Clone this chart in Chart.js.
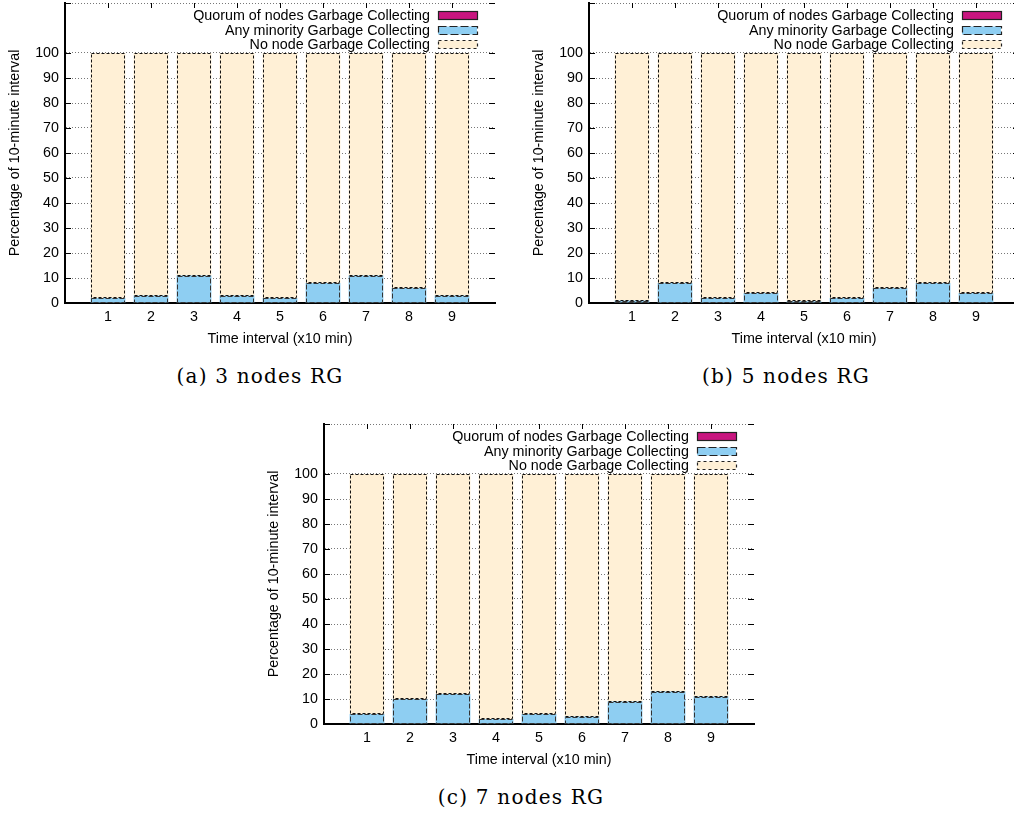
<!DOCTYPE html>
<html>
<head>
<meta charset="utf-8">
<script src="https://cdn.jsdelivr.net/npm/chart.js@4"></script>
<style>
  body { margin: 0; width: 1014px; height: 817px; overflow: hidden; background: #fff; position: relative; }
  canvas { position: absolute; }
  .cap { position: absolute; width: 400px; text-align: center; font-family: "DejaVu Serif", serif;
         font-size: 20px; letter-spacing: 1.2px; line-height: 24px; color: #000; }
</style>
</head>
<body>
<canvas id="chartA" width="500" height="350" style="left:0px;top:0px"></canvas>
<canvas id="chartB" width="500" height="350" style="left:524px;top:0px"></canvas>
<canvas id="chartC" width="500" height="350" style="left:259px;top:421px"></canvas>
<div class="cap" style="left:60px;top:364px">(a) 3 nodes RG</div>
<div class="cap" style="left:586px;top:364px">(b) 5 nodes RG</div>
<div class="cap" style="left:321px;top:785px">(c) 7 nodes RG</div>
<script>
// time intervals (x10 min)
const intervals = [1, 2, 3, 4, 5, 6, 7, 8, 9];
const seriesNames = ['Quorum of nodes Garbage Collecting', 'Any minority Garbage Collecting', 'No node Garbage Collecting'];

// 3 nodes
const quorumA   = [0, 0, 0, 0, 0, 0, 0, 0, 0];
const minorityA = [2, 3, 11, 3, 2, 8, 11, 6, 3];
const noneA     = [98, 97, 89, 97, 98, 92, 89, 94, 97];
// 5 nodes
const quorumB   = [0, 0, 0, 0, 0, 0, 0, 0, 0];
const minorityB = [1, 8, 2, 4, 0.7, 2, 6, 8, 4];
const noneB     = [99, 92, 98, 96, 99.3, 98, 94, 92, 96];
// 7 nodes
const quorumC   = [0, 0, 0, 0, 0, 0, 0, 0, 0];
const minorityC = [4, 10, 12, 2, 4, 3, 9, 13, 11];
const noneC     = [96, 90, 88, 98, 96, 97, 91, 87, 89];

const colQuorum = '#C8157F';
const colMinority = '#8ECEF2';
const colNone = '#FFF0D6';
const dashes = [[], [5, 2], [3, 2]];
const swatchDashes = [[], [8, 3], [3, 3]];

Chart.defaults.font.family = '"Liberation Sans", Arial, sans-serif';
Chart.defaults.font.size = 14.3;
Chart.defaults.color = '#000';

function line(ctx, x1, y1, x2, y2) {
  ctx.beginPath(); ctx.moveTo(x1, y1); ctx.lineTo(x2, y2); ctx.stroke();
}

// gnuplot-like inward ticks on all four sides
const tickMarks = {
  id: 'tickMarks',
  beforeDatasetsDraw(chart) {
    const { ctx, chartArea: a, scales: { x, y } } = chart;
    ctx.save();
    ctx.strokeStyle = '#000';
    ctx.lineWidth = 1;
    y.ticks.forEach(t => {
      if (t.value === 110) return;
      const py = Math.round(y.getPixelForValue(t.value)) + 0.5;
      line(ctx, a.left, py, a.left + 6, py);
      line(ctx, a.right - 6, py, a.right, py);
    });
    intervals.forEach(v => {
      const px = Math.round(x.getPixelForValue(v)) + 0.5;
      line(ctx, px, a.top, px, a.top + 5);
      line(ctx, px, a.bottom, px, a.bottom - 5);
    });
    ctx.restore();
  }
};

// dashed outlines round each bar
const barOutlines = {
  id: 'barOutlines',
  afterDatasetsDraw(chart) {
    const ctx = chart.ctx;
    ctx.save();
    ctx.lineWidth = 1;
    chart.data.datasets.forEach((ds, i) => {
      const meta = chart.getDatasetMeta(i);
      ctx.setLineDash(dashes[i]);
      ctx.strokeStyle = i === 1 ? '#333' : '#111';
      meta.data.forEach(el => {
        const { x, y, base, width } = el.getProps(['x', 'y', 'base', 'width'], true);
        const h = Math.abs(base - y);
        if (h < 0.5) return;
        const left = Math.round(x - width / 2) + 0.5;
        const right = Math.round(x + width / 2) - 0.5;
        const top = Math.round(Math.min(y, base)) + 0.5;
        const bottom = Math.round(Math.max(y, base)) - 0.5;
        ctx.strokeRect(left, top, right - left, bottom - top);
      });
    });
    ctx.restore();
  }
};

// legend in the upper right, text right-aligned, key on the right
const keyBox = {
  id: 'keyBox',
  afterDraw(chart) {
    const { ctx, chartArea: a } = chart;
    ctx.save();
    ctx.font = '14.3px "Liberation Sans", Arial, sans-serif';
    ctx.textAlign = 'right';
    ctx.textBaseline = 'middle';
    const rows = [12, 27, 41];
    chart.data.datasets.forEach((ds, i) => {
      const cy = a.top + rows[i];
      ctx.fillStyle = '#000';
      ctx.fillText(ds.label, a.right - 65, cy + 1);
      const x0 = a.right - 57, w = 39, h = 8;
      const y0 = Math.round(cy - h / 2) + 0.5;
      ctx.fillStyle = ds.backgroundColor;
      ctx.fillRect(x0, y0, w, h);
      ctx.setLineDash(swatchDashes[i]);
      ctx.strokeStyle = '#222';
      ctx.lineWidth = 1.2;
      ctx.strokeRect(x0 + 0.5, y0, w, h);
    });
    ctx.restore();
  }
};

function pts(vals) {
  return vals.map((v, i) => ({ x: intervals[i], y: v }));
}

function makeChart(id, quorum, minority, none) {
  return new Chart(document.getElementById(id), {
    type: 'bar',
    data: {
      datasets: [
        { label: seriesNames[0], data: pts(quorum), backgroundColor: colQuorum },
        { label: seriesNames[1], data: pts(minority), backgroundColor: colMinority },
        { label: seriesNames[2], data: pts(none), backgroundColor: colNone }
      ]
    },
    options: {
      responsive: false,
      animation: false,
      devicePixelRatio: 1,
      layout: { padding: { top: 3, right: 5, left: 0, bottom: 0 } },
      datasets: { bar: { barPercentage: 0.81, categoryPercentage: 1, borderWidth: 0 } },
      plugins: { legend: { display: false }, tooltip: { enabled: false } },
      scales: {
        x: {
          type: 'linear',
          stacked: true,
          offset: false,
          min: 0,
          max: 10,
          afterFit: s => { s.height = 47; s.paddingLeft = 0; s.paddingRight = 0; },
          ticks: {
            stepSize: 1,
            padding: 5,
            maxRotation: 0,
            callback: v => (v >= 1 && v <= 9 ? v : '')
          },
          grid: { display: false, drawTicks: false },
          border: { display: true, color: '#000', width: 2 },
          title: { display: true, text: 'Time interval (x10 min)', padding: { top: 0, bottom: 2 } }
        },
        y: {
          stacked: true,
          min: 0,
          max: 120,
          afterFit: s => { s.width = 65; s.paddingTop = 0; s.paddingBottom = 0; },
          ticks: {
            stepSize: 10,
            padding: 6,
            callback: v => (v <= 100 ? v : '')
          },
          grid: {
            drawTicks: false,
            lineWidth: 1,
            color: c => (c.tick && c.tick.value === 110 ? 'rgba(0,0,0,0)' : '#777')
          },
          border: { display: true, color: '#000', width: 2, dash: [1, 2] },
          title: { display: true, text: 'Percentage of 10-minute interval', padding: { top: 6, bottom: 0 } }
        }
      }
    },
    plugins: [tickMarks, barOutlines, keyBox]
  });
}

makeChart('chartA', quorumA, minorityA, noneA);
makeChart('chartB', quorumB, minorityB, noneB);
makeChart('chartC', quorumC, minorityC, noneC);
</script>
</body>
</html>
